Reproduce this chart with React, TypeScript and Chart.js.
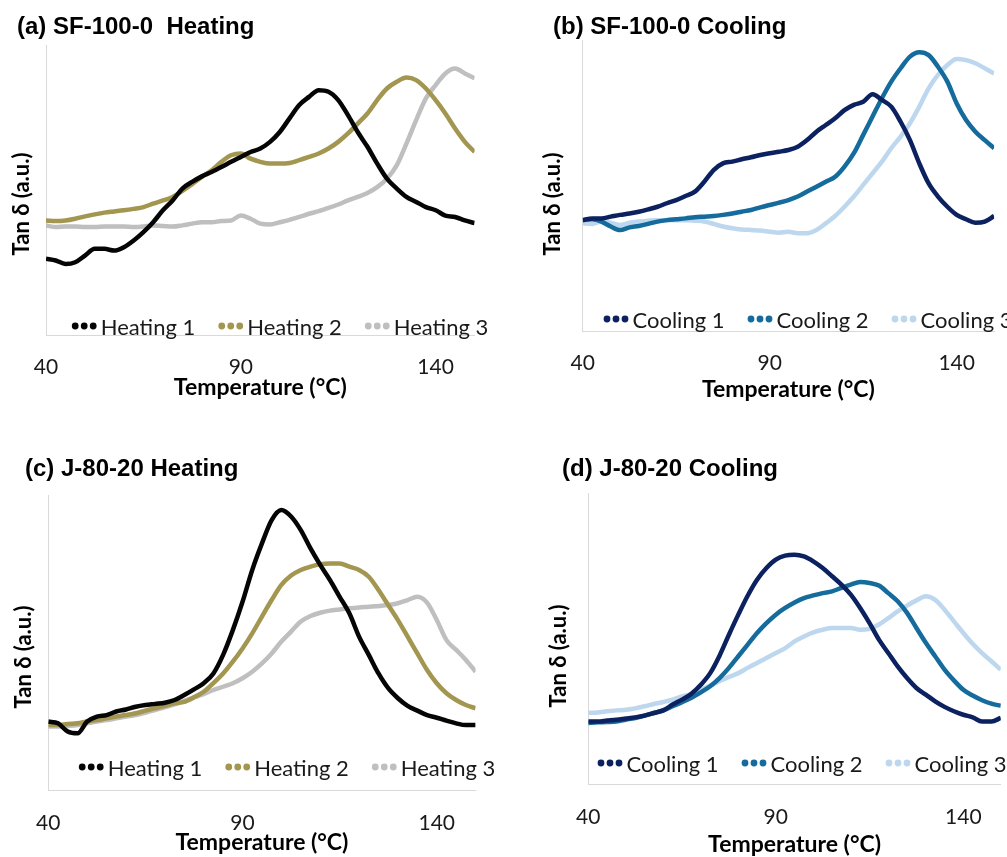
import React, { useEffect, useRef } from "react";
import { Chart, registerables } from "chart.js";

Chart.register(...registerables);

// Temperature grid (°C) shared by every series
const temps = [40, 42.5, 45, 47.5, 50, 52.5, 55, 57.5, 60, 62.5, 65, 67.5, 70, 72.5, 75, 77.5, 80, 82.5, 85, 87.5, 90, 92.5, 95, 97.5, 100, 102.5, 105, 107.5, 110, 112.5, 115, 117.5, 120, 122.5, 125, 127.5, 130, 132.5, 135, 137.5, 140, 142.5, 145, 147.5, 150];
const xTicks = [40, 90, 140];

// (a) SF-100-0 Heating — Tan δ (a.u.)
const aHeating1 = [26.3, 25.7, 24.5, 25.1, 27.4, 29.7, 29.7, 29.1, 30.3, 32.6, 35.5, 38.9, 43.0, 46.4, 50.5, 52.8, 54.7, 56.2, 57.9, 59.7, 61.4, 63.1, 64.3, 66.6, 70.0, 74.7, 79.3, 82.1, 84.4, 83.9, 81.0, 75.8, 70.0, 64.9, 59.1, 53.9, 50.5, 47.6, 45.9, 44.1, 43.0, 41.2, 40.7, 39.5, 38.6];
const aHeating2 = [39.5, 39.3, 39.5, 40.1, 40.9, 41.6, 42.2, 42.6, 43.0, 43.5, 44.1, 45.3, 46.4, 47.6, 49.7, 52.0, 54.5, 56.8, 59.7, 62.0, 62.6, 60.8, 59.7, 59.1, 59.1, 59.3, 60.3, 61.4, 62.6, 64.3, 66.6, 69.5, 72.9, 76.4, 81.0, 85.0, 87.3, 88.8, 87.9, 85.0, 81.0, 76.4, 71.2, 66.6, 63.1];
const aHeating3 = [37.8, 37.2, 37.4, 37.4, 37.2, 37.2, 37.4, 37.4, 37.4, 37.2, 37.4, 37.8, 37.6, 37.4, 37.8, 38.4, 38.9, 38.9, 39.3, 39.5, 41.2, 40.1, 38.4, 38.1, 38.9, 39.7, 40.7, 41.8, 42.7, 43.8, 45.0, 46.4, 47.6, 49.0, 51.0, 53.9, 58.5, 66.0, 74.1, 81.6, 86.2, 90.2, 91.9, 90.2, 88.5];

// (b) SF-100-0 Cooling
const bCooling1 = [38.1, 38.7, 38.7, 39.3, 39.9, 40.4, 41.0, 41.8, 42.7, 43.9, 45.0, 46.4, 47.9, 51.3, 55.3, 57.6, 58.2, 59.0, 59.7, 60.5, 61.1, 61.6, 62.2, 63.3, 65.6, 68.5, 70.8, 73.1, 75.9, 77.7, 78.8, 81.4, 79.4, 77.1, 71.9, 65.6, 57.6, 50.7, 46.2, 42.7, 39.9, 38.4, 37.2, 37.6, 39.5];
const bCooling2 = [38.1, 38.4, 37.6, 35.9, 34.7, 35.6, 36.1, 36.8, 37.6, 38.1, 38.4, 38.7, 39.1, 39.3, 39.5, 39.9, 40.4, 41.0, 41.6, 42.5, 43.3, 44.1, 45.0, 46.2, 47.9, 49.6, 51.3, 53.0, 56.5, 61.1, 67.4, 73.7, 80.0, 85.7, 90.3, 94.3, 95.8, 94.8, 90.8, 85.7, 78.2, 72.5, 68.5, 65.6, 62.8];
const bCooling3 = [37.0, 36.8, 37.6, 37.2, 36.4, 37.2, 37.6, 37.9, 38.1, 38.1, 38.1, 38.1, 37.9, 37.6, 36.8, 35.9, 35.3, 34.9, 34.7, 34.5, 34.1, 33.8, 34.1, 33.6, 33.6, 34.7, 37.0, 39.5, 42.7, 46.2, 50.2, 54.2, 58.2, 62.8, 66.8, 71.4, 77.1, 83.4, 88.0, 91.4, 93.5, 93.1, 92.0, 90.3, 88.5];

// (c) J-80-20 Heating
const cHeating1 = [23.2, 22.6, 19.8, 19.2, 23.2, 24.9, 25.4, 26.6, 27.3, 28.2, 28.8, 29.2, 29.6, 30.5, 32.2, 34.1, 36.2, 39.5, 45.8, 54.2, 63.8, 74.6, 83.6, 91.5, 94.9, 92.7, 88.1, 81.9, 76.3, 71.2, 65.5, 59.9, 52.0, 45.8, 39.5, 34.5, 31.1, 28.5, 26.9, 25.4, 24.5, 23.5, 22.6, 22.0, 22.0];
const cHeating2 = [22.0, 22.0, 22.4, 22.6, 23.2, 23.7, 24.3, 24.9, 25.4, 26.0, 26.9, 27.7, 28.5, 29.4, 29.9, 31.4, 33.3, 36.2, 39.5, 43.5, 48.0, 53.1, 58.8, 64.4, 69.5, 72.7, 74.6, 75.7, 76.5, 76.8, 76.8, 75.7, 74.6, 72.3, 67.8, 62.7, 57.6, 52.0, 46.3, 40.7, 36.2, 32.8, 30.5, 28.8, 27.7];
const cHeating3 = [21.5, 21.5, 21.7, 22.0, 22.6, 23.2, 23.7, 24.3, 24.9, 25.4, 26.2, 27.1, 28.0, 29.0, 30.2, 31.4, 32.5, 33.9, 35.0, 36.2, 37.9, 40.1, 42.9, 46.3, 50.3, 53.7, 57.1, 59.0, 60.1, 60.8, 61.2, 61.6, 61.9, 62.1, 62.4, 62.7, 63.3, 64.4, 65.5, 63.5, 57.6, 50.8, 47.5, 44.1, 40.1];

// (d) J-80-20 Cooling
const dCooling1 = [21.5, 21.5, 21.8, 22.1, 22.5, 22.9, 23.5, 24.4, 25.3, 27.3, 29.0, 31.0, 34.1, 38.1, 44.1, 51.3, 58.2, 64.7, 70.2, 74.2, 77.1, 78.5, 78.8, 78.2, 76.5, 74.2, 71.4, 68.5, 65.1, 60.5, 55.3, 49.6, 45.0, 40.4, 36.4, 33.0, 30.7, 28.4, 26.5, 25.0, 23.8, 22.9, 21.5, 21.5, 22.7];
const dCooling2 = [21.0, 21.2, 21.3, 21.5, 22.1, 22.7, 23.5, 24.4, 25.3, 26.7, 28.1, 29.6, 31.5, 33.6, 36.4, 39.9, 43.9, 47.9, 51.9, 55.3, 58.2, 60.5, 62.4, 63.9, 64.8, 65.6, 66.2, 67.4, 68.5, 69.4, 69.1, 68.2, 65.6, 62.8, 58.8, 53.6, 48.5, 43.9, 39.3, 35.6, 32.4, 30.4, 28.8, 27.6, 26.9];
const dCooling3 = [24.4, 24.6, 25.0, 25.3, 25.5, 26.0, 26.7, 27.5, 28.2, 29.0, 30.1, 31.0, 32.4, 33.8, 35.3, 36.8, 38.1, 39.9, 41.6, 43.3, 45.0, 46.7, 49.0, 50.7, 52.1, 53.0, 53.6, 53.6, 53.6, 53.0, 53.3, 54.8, 57.0, 59.3, 61.3, 63.1, 64.5, 63.3, 59.9, 55.9, 51.9, 48.2, 45.0, 42.2, 39.3];

const heatingLabels = ["Heating 1", "Heating 2", "Heating 3"];
const coolingLabels = ["Cooling 1", "Cooling 2", "Cooling 3"];
const heatingColors = ["#050505", "#A29650", "#BFBFBF"];
const coolingColors = ["#0B2160", "#156C9C", "#BDD7EE"];

const panels = [
  { key: "a", title: "(a) SF-100-0  Heating", series: [aHeating1, aHeating2, aHeating3], labels: heatingLabels, colors: heatingColors,
    X: 0, Y: 0, W: 500, H: 420, left: 46, right: 474.6, top: 45, bottom: 335, tickY: 367, axisTitleY: 388,
    titleX: 17, titleY: 27, yTitleX: 22, yTitleY: 204, legendX: 280, legendY: 335 },
  { key: "b", title: "(b) SF-100-0 Cooling", series: [bCooling1, bCooling2, bCooling3], labels: coolingLabels, colors: coolingColors,
    X: 500, Y: 0, W: 507, H: 420, left: 82.7, right: 494.1, top: 40, bottom: 331, tickY: 363, axisTitleY: 390,
    titleX: 53, titleY: 27, yTitleX: 53, yTitleY: 204, legendX: 308, legendY: 328 },
  { key: "c", title: "(c) J-80-20 Heating", series: [cHeating1, cHeating2, cHeating3], labels: heatingLabels, colors: heatingColors,
    X: 0, Y: 420, W: 500, H: 437, left: 48.3, right: 475.6, top: 75, bottom: 370, tickY: 403, axisTitleY: 423,
    titleX: 25, titleY: 49, yTitleX: 24, yTitleY: 237, legendX: 287, legendY: 356 },
  { key: "d", title: "(d) J-80-20 Cooling", series: [dCooling1, dCooling2, dCooling3], labels: coolingLabels, colors: coolingColors,
    X: 500, Y: 420, W: 507, H: 437, left: 88.3, right: 500.8, top: 73, bottom: 364, tickY: 397, axisTitleY: 425,
    titleX: 62, titleY: 49, yTitleX: 59, yTitleY: 236, legendX: 302, legendY: 352 },
];

const TICK_SIZE = 21;
const AXIS_TITLE_SIZE = 23;
const LEGEND_FONT = '22px Lato, "Open Sans", sans-serif';

const decorPlugin = {
  id: "panelDecor",
  afterDraw(chart: any, _args: any, opts: any) {
    const ctx = chart.ctx as CanvasRenderingContext2D;
    ctx.save();
    // panel title
    ctx.fillStyle = "#000";
    ctx.font = 'bold 24px "Liberation Sans", Arial, sans-serif';
    ctx.textAlign = "left";
    ctx.textBaseline = "middle";
    ctx.fillText(opts.title, opts.titleX, opts.titleY);
    // y axis title
    ctx.save();
    ctx.translate(opts.yTitleX, opts.yTitleY);
    ctx.rotate(-Math.PI / 2);
    ctx.font = 'bold 22px Lato, "Open Sans", sans-serif';
    ctx.textAlign = "center";
    ctx.textBaseline = "middle";
    ctx.fillText("Tan δ (a.u.)", 0, 0);
    ctx.restore();
    // legend
    ctx.font = LEGEND_FONT;
    ctx.textAlign = "left";
    ctx.textBaseline = "alphabetic";
    const ds = chart.data.datasets;
    const markerW = 25, gapMT = 4, gapItems = 23;
    const widths = ds.map((d: any) => markerW + gapMT + ctx.measureText(d.label).width);
    const total = widths.reduce((s: number, w: number) => s + w, 0) + gapItems * (ds.length - 1);
    let x = opts.legendX - total / 2;
    const base = opts.legendY;
    ds.forEach((d: any, i: number) => {
      ctx.fillStyle = d.borderColor;
      for (let k = 0; k < 3; k++) {
        ctx.beginPath();
        ctx.arc(x + 3.5 + k * 9, base - 9, 3.4, 0, Math.PI * 2);
        ctx.fill();
      }
      ctx.fillStyle = "#1a1a1a";
      ctx.fillText(d.label, x + markerW + gapMT, base);
      x += widths[i] + gapItems;
    });
    ctx.restore();
  },
};

function Panel({ p }: { p: any }) {
  const ref = useRef<HTMLCanvasElement>(null);
  useEffect(() => {
    const tickLH = TICK_SIZE * 1.2;
    const titleLH = AXIS_TITLE_SIZE * 1.2;
    const xBoxBottom = p.axisTitleY + titleLH / 2;
    const chart = new Chart(ref.current as HTMLCanvasElement, {
      type: "line",
      data: {
        datasets: p.series.map((vals: number[], i: number) => ({
          label: p.labels[i],
          data: temps.map((t, j) => ({ x: t, y: vals[j] })),
          borderColor: p.colors[i],
          backgroundColor: p.colors[i],
          borderWidth: 4.5,
          pointRadius: 0,
          cubicInterpolationMode: "monotone",
          fill: false,
        })),
      },
      options: {
        animation: false,
        responsive: false,
        maintainAspectRatio: false,
        layout: { padding: { left: 0, top: p.top, right: p.W - p.right, bottom: p.H - xBoxBottom } },
        plugins: {
          legend: { display: false },
          title: { display: false },
          tooltip: { enabled: false },
          panelDecor: p,
        } as any,
        scales: {
          x: {
            type: "linear",
            min: 40,
            max: 150,
            afterBuildTicks: (s: any) => { s.ticks = xTicks.map((v) => ({ value: v })); },
            afterFit: (s: any) => { s.height = xBoxBottom - p.bottom; },
            grid: { display: false, drawTicks: false },
            border: { display: true, color: "#D9D9D9", width: 1 },
            ticks: {
              color: "#1a1a1a",
              padding: p.tickY - p.bottom - tickLH / 2,
              font: { family: 'Lato, "Open Sans", sans-serif', size: TICK_SIZE },
              maxRotation: 0,
            },
            title: {
              display: true,
              text: "Temperature (°C)",
              color: "#000",
              padding: 0,
              font: { family: 'Lato, "Open Sans", sans-serif', size: AXIS_TITLE_SIZE, weight: "bold" },
            },
          },
          y: {
            min: 0,
            max: 100,
            afterFit: (s: any) => { s.width = p.left; },
            grid: { display: false, drawTicks: false },
            border: { display: true, color: "#D9D9D9", width: 1 },
            ticks: { display: false },
          },
        },
      },
      plugins: [decorPlugin],
    } as any);
    return () => chart.destroy();
  }, []);
  return (
    <canvas
      ref={ref}
      width={p.W}
      height={p.H}
      style={{ position: "absolute", left: p.X, top: p.Y, width: p.W, height: p.H }}
    />
  );
}

export default function App() {
  return (
    <div style={{ position: "absolute", left: 0, top: 0, width: 1007, height: 857, background: "#fff" }}>
      {panels.map((p) => (
        <Panel key={p.key} p={p} />
      ))}
    </div>
  );
}
